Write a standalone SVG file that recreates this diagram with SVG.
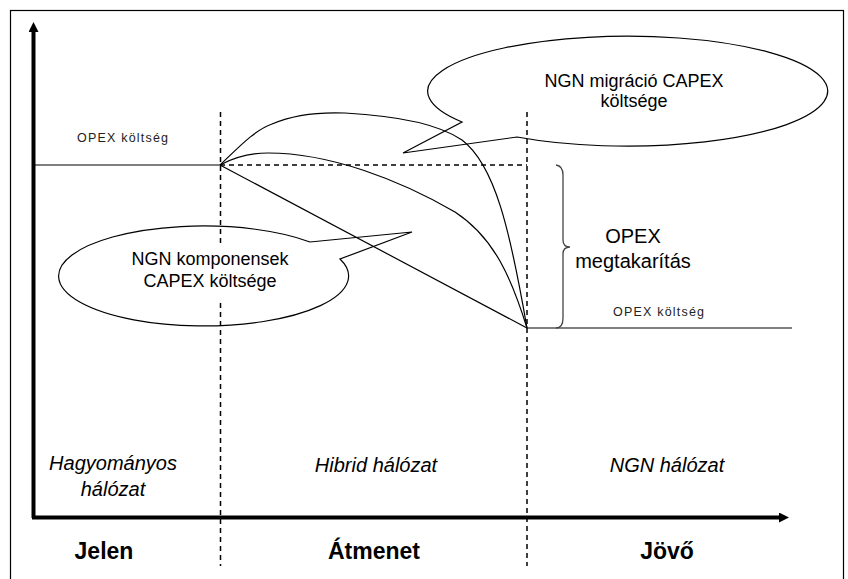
<svg xmlns="http://www.w3.org/2000/svg" width="848" height="579" viewBox="0 0 848 579">
<defs>
<style>
.t{font-family:"Liberation Sans",Arial,sans-serif;fill:#000}
.ln{fill:none;stroke:#000;stroke-width:1.2}
.dash{fill:none;stroke:#000;stroke-width:1.5;stroke-dasharray:5,4}
.callout{fill:none;stroke:#000;stroke-width:1.2;stroke-linejoin:miter}
.small{font-size:12.5px;letter-spacing:1.2px;fill:#222}
.mid{font-size:18px}
.it{font-size:20px;font-style:italic}
.bold{font-size:23px;font-weight:bold}
</style>
<marker id="ah" markerWidth="10" markerHeight="10" refX="5" refY="5" orient="auto" markerUnits="userSpaceOnUse" viewBox="0 0 10 10">
<path d="M0,0 L10,5 L0,10 z" fill="#000"/>
</marker>
</defs>
<rect width="848" height="579" fill="#fff"/>
<rect x="10.5" y="10.5" width="833" height="580" fill="none" stroke="#000" stroke-width="1.2"/>

<g id="axes">
<line x1="33.5" y1="518" x2="33.5" y2="27" stroke="#000" stroke-width="4" marker-end="url(#ah)"/>
<line x1="32" y1="517.5" x2="784" y2="517.5" stroke="#000" stroke-width="4" marker-end="url(#ah)"/>
</g>

<g id="connectors">
<line class="dash" x1="220.5" y1="112" x2="220.5" y2="244"/>
<line class="dash" x1="220.5" y1="303" x2="220.5" y2="566"/>
<line class="dash" x1="527" y1="112" x2="527" y2="566"/>
<line class="ln" x1="34" y1="165" x2="220" y2="165"/>
<line class="dash" x1="220" y1="165" x2="527" y2="165"/>
<line class="ln" x1="527" y1="328" x2="792" y2="328"/>
<line class="ln" x1="220" y1="165" x2="527" y2="328"/>
<path class="ln" d="M220,165 C235,157 250,153 268,153 C330,153 400,180 455,212 C495,238 512,280 527,328"/>
<path class="ln" d="M220,165 C240,146 255,130 272,124 C295,114 320,112 345,113 C400,116 440,125 462,140 C495,165 510,230 527,328"/>
<path d="M556,165 Q563,166 563,175 L563,240 Q563,247 570,247 Q563,247 563,254 L563,318 Q563,328 556,328" fill="none" stroke="#444" stroke-width="1.3"/>
</g>

<g id="callout-migration">
<path class="callout" d="M462,122 A200,55 0 1,1 517,137 L403,153 Z"/>
<text class="t mid" x="634" y="87" text-anchor="middle">NGN migráció CAPEX</text>
<text class="t mid" x="634" y="107" text-anchor="middle">költsége</text>
</g>

<g id="callout-components">
<path class="callout" d="M310,242 A145,50 0 1,0 340,259 L412,232 Z"/>
<text class="t mid" x="210" y="265" text-anchor="middle">NGN komponensek</text>
<text class="t mid" x="210" y="287" text-anchor="middle">CAPEX költsége</text>
</g>

<g id="labels">
<text class="t small" x="77" y="142">OPEX költség</text>
<text class="t small" x="613" y="316">OPEX költség</text>
<text class="t" x="633" y="243" text-anchor="middle" font-size="20">OPEX</text>
<text class="t" x="633" y="268" text-anchor="middle" font-size="20">megtakarítás</text>
<text class="t it" x="113" y="470" text-anchor="middle">Hagyományos</text>
<text class="t it" x="113" y="496" text-anchor="middle">hálózat</text>
<text class="t it" x="376" y="472" text-anchor="middle">Hibrid hálózat</text>
<text class="t it" x="667" y="472" text-anchor="middle">NGN hálózat</text>
<text class="t bold" x="104" y="559" text-anchor="middle">Jelen</text>
<text class="t bold" x="374" y="559" text-anchor="middle">Átmenet</text>
<text class="t bold" x="667" y="559" text-anchor="middle">Jövő</text>
</g>
</svg>
